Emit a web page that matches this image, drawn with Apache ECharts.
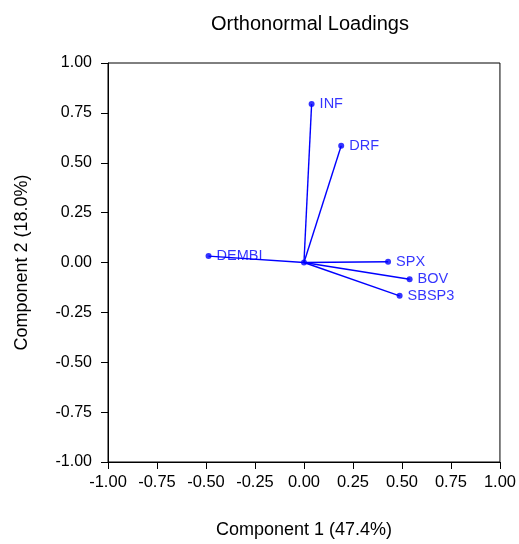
<!DOCTYPE html>
<html>
<head>
<meta charset="utf-8">
<script src="https://cdn.jsdelivr.net/npm/echarts@6/dist/echarts.min.js"></script>
<style>
  html, body { margin: 0; padding: 0; background: #fff; }
  #main { width: 519px; height: 544px; }
</style>
</head>
<body>
<div id="main"></div>
<script>
// loadings
var names = ['INF', 'DRF', 'DEMBI', 'SPX', 'BOV', 'SBSP3'];
var comp1 = [0.039, 0.19, -0.487, 0.429, 0.539, 0.488];
var comp2 = [0.794, 0.585, 0.032, 0.004, -0.084, -0.167];

var blue = '#0000ff';
var font = 'Liberation Sans, Arial, sans-serif';

var series = [];
// one segment per variable, origin -> loading
names.forEach(function (n, i) {
  series.push({
    type: 'line',
    data: [[0, 0], [comp1[i], comp2[i]]],
    symbol: 'none',
    lineStyle: { color: blue, width: 1.4 },
    silent: true,
    z: 2
  });
});
series.push({
  type: 'scatter',
  data: names.map(function (n, i) { return { name: n, value: [comp1[i], comp2[i]] }; })
    .concat([{ name: '', value: [0, 0] }]),
  symbolSize: 6,
  itemStyle: { color: blue },
  label: {
    show: true,
    position: 'right',
    distance: 5,
    formatter: '{b}',
    color: blue,
    fontFamily: font,
    fontSize: 14.5
  },
  z: 3
});

var tickLabel = function (v) { return v.toFixed(2); };

var chart = echarts.init(document.getElementById('main'));
chart.setOption({
  animation: false,
  title: {
    text: 'Orthonormal Loadings',
    left: 305,
    textAlign: 'center',
    top: 9,
    textStyle: { fontFamily: font, fontSize: 20, fontWeight: 'normal', color: '#000' }
  },
  grid: { left: 108, right: 17, top: 63, bottom: 80, show: true, borderColor: '#000', borderWidth: 1 },
  xAxis: {
    type: 'value', min: -1, max: 1, interval: 0.25,
    name: 'Component 1 (47.4%)', nameLocation: 'middle', nameGap: 59,
    nameTextStyle: { fontFamily: font, fontSize: 18, color: '#000' },
    axisLine: { show: true, onZero: false, lineStyle: { color: '#000' } },
    axisTick: { show: true, length: 7, lineStyle: { color: '#000' } },
    axisLabel: { fontFamily: font, fontSize: 16.5, color: '#000', margin: 12, formatter: tickLabel },
    splitLine: { show: false }
  },
  yAxis: {
    type: 'value', min: -1, max: 1, interval: 0.25,
    name: 'Component 2 (18.0%)', nameLocation: 'middle', nameGap: 77,
    nameTextStyle: { fontFamily: font, fontSize: 18, color: '#000' },
    axisLine: { show: true, onZero: false, lineStyle: { color: '#000' } },
    axisTick: { show: true, length: 7, lineStyle: { color: '#000' } },
    axisLabel: { fontFamily: font, fontSize: 16, color: '#000', margin: 16, formatter: tickLabel },
    splitLine: { show: false }
  },
  series: series
});
</script>
</body>
</html>
